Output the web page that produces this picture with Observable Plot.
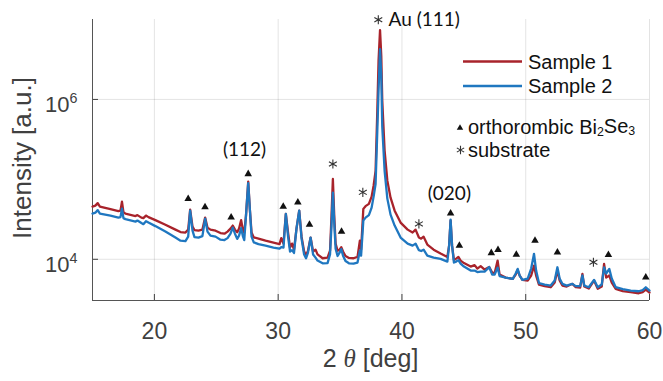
<!DOCTYPE html>
<html><head><meta charset="utf-8">
<script src="https://cdn.jsdelivr.net/npm/d3@7"></script>
<script src="https://cdn.jsdelivr.net/npm/@observablehq/plot@0.6"></script>
<style>
body{margin:0;background:#fff;}
#chart{width:663px;height:381px;}
</style></head><body><div id="chart"></div>
<script>
// 2θ positions (deg)
const twoTheta = [15.00,15.23,15.42,15.60,16.45,17.09,17.26,17.38,17.50,17.66,
18.47,18.63,18.95,19.11,19.32,19.52,20.08,20.89,21.70,22.11,
22.51,22.73,22.89,23.08,23.24,23.56,23.88,24.10,24.29,24.53,
24.94,25.34,25.66,25.91,26.15,26.33,26.51,26.69,26.84,27.01,
27.16,27.26,27.40,27.58,27.72,27.85,28.03,28.41,28.98,29.62,
30.11,30.25,30.43,30.62,30.80,30.96,31.12,31.28,31.48,31.70,
31.89,32.09,32.25,32.41,32.62,32.82,33.02,33.18,33.59,33.99,
34.19,34.31,34.42,34.53,34.64,34.80,34.96,35.10,35.24,35.44,
35.72,36.09,36.41,36.60,36.70,36.88,37.06,37.33,37.55,37.71,
37.87,38.01,38.11,38.23,38.33,38.41,38.60,38.82,39.08,39.41,
39.89,40.46,40.86,41.10,41.37,41.55,41.75,42.05,42.56,43.12,
43.67,43.81,43.93,44.05,44.20,44.38,44.56,44.74,45.01,45.55,
45.87,46.09,46.36,46.68,47.05,47.29,47.49,47.73,47.89,48.38,
48.95,49.19,49.35,49.51,49.73,50.16,50.44,50.67,50.84,51.07,
51.53,52.02,52.34,52.56,52.74,52.96,53.31,53.77,54.04,54.40,
54.58,54.73,55.09,55.52,55.82,56.14,56.33,56.50,56.75,56.95,
57.27,57.84,58.48,59.13,59.45,59.70,60.00];

// Sample 1 intensity (a.u.)
const sample1 = [45600,46900,50400,45600,42400,40000,40600,52600,38900,37200,
34700,35700,33200,32700,35200,33700,30900,27100,23500,21900,
21600,23500,41800,25600,23200,22800,23500,33200,24900,23500,
22800,21300,20900,22200,24200,26400,23500,21800,24200,30900,
22800,21600,35200,93500,40600,21600,18800,18100,17100,16200,
15500,18400,15700,36900,21600,14000,15700,13200,24200,40600,
19200,12700,11100,12800,18700,12500,13200,11500,10300,10500,
12800,35200,101000,35200,15700,12800,13200,14200,12500,11000,
10400,10300,10700,17100,13200,42700,46200,49300,60800,83400,
128000,723000,3050000,7370000,3520000,964000,229000,96400,59000,40600,
28800,23500,21600,23500,18700,18100,19200,15300,13200,11800,
10700,14800,30500,14800,9770,10200,10700,9630,8960,8110,
8460,7650,8220,7430,7990,6820,6720,9630,6440,5900,
5690,6440,7330,6260,5530,5420,6260,8340,6260,4830,
4620,4470,5110,7230,5420,4690,4560,4930,4490,4430,
6570,4560,4300,5420,4270,4560,8760,5900,6260,5110,
4270,4000,3870,3760,3890,4180,3840];

// Sample 2 intensity (a.u.)
const sample2 = [37200,38300,41200,37200,35200,33200,33700,43000,32700,31800,
29600,30500,28400,27500,30000,28800,26000,22200,18700,17100,
16900,19200,40600,22800,18900,18700,19500,32300,22200,19800,
19200,17600,17400,18400,20900,24900,20900,18000,19800,24500,
19200,17400,35200,89700,40600,19200,16300,15500,14800,14000,
13600,14200,14000,36900,19200,12500,13000,12000,24200,40600,
18100,11600,10300,12100,18700,11500,10500,9630,8910,8960,
11500,26400,68200,28800,13600,11000,12100,13400,11100,9500,
8910,8840,9100,12800,11100,30500,33200,35700,44300,60800,
87600,406000,1290000,4270000,1980000,456000,128000,57400,36200,26400,
18700,15700,14800,15700,13000,12700,13200,11100,10500,10100,
9360,14800,31400,14800,9100,9360,9770,8840,8110,7230,
7230,6920,7020,7020,7990,6440,6440,7870,6170,5900,
5690,6630,7590,6260,5530,5740,7650,11700,7230,5040,
4830,4690,5420,7940,5740,4930,4690,4930,4620,4620,
6260,4690,4470,5530,4470,4830,7940,6630,7590,5740,
4470,4240,4060,3980,4120,4470,4060];

// orthorhombic Bi2Se3 peak markers
const orthoX = [22.73,24.09,26.20,27.58,30.41,31.59,32.53,35.12,43.93,44.64,47.22,47.76,49.24,50.75,52.56,56.68,59.70];
const orthoY = [56900,44900,33500,116800,45600,51600,27100,22200,37600,14800,12000,13100,11450,17100,12240,11350,5960];

// substrate peak markers
const substrateX = [34.42,36.84,38.09,41.37,55.47];
const substrateY = [155800,68800,9910000,27700,9170];

// peak labels
const hklLabels = ["(112)","(020)"];
const hklX = [27.28,43.83];
const hklY = [235000,66200];
const auLabel = ["Au (111)"];
const auX = [38.92];
const auY = [9910000];

const xTicks = [20,30,40,50,60];
const yTicks = [1e4,1e6];
const xDomain = [15,60];
const yDomain = [3050,1e7];

const seriesNames = ["Sample 1","Sample 2"];
const seriesColors = ["#A8232B","#1F77C0"];

const s1 = twoTheta.map((t,i)=>({t, v: sample1[i]}));
const s2 = twoTheta.map((t,i)=>({t, v: sample2[i]}));
const ortho = orthoX.map((x,i)=>({x, y: orthoY[i]}));
const subs = substrateX.map((x,i)=>({x, y: substrateY[i]}));
const hkl = hklLabels.map((s,i)=>({s, x: hklX[i], y: hklY[i]}));
const au = auLabel.map((s,i)=>({s, x: auX[i], y: auY[i]}));

const FONT = "'Liberation Sans', Arial, Helvetica, sans-serif";
const AXC = "#404040";

const chart = Plot.plot({
  width: 663, height: 381,
  marginLeft: 92, marginRight: 14, marginTop: 19, marginBottom: 81,
  style: {fontFamily: FONT, background: "#fff", overflow: "visible"},
  x: {domain: xDomain, label: null},
  y: {type: "log", domain: yDomain, label: null},
  marks: [
    Plot.gridX({ticks: xTicks, stroke: "#000", strokeOpacity: 0.11}),
    Plot.gridY({ticks: yTicks, stroke: "#000", strokeOpacity: 0.11}),
    Plot.axisX({ticks: xTicks, tickSize: 6, dy: -6, tickFormat: () => "", color: AXC}),
    Plot.axisX({ticks: xTicks, tickSize: 0, tickPadding: 22, fontSize: 23, color: AXC, tickFormat: d => String(d)}),
    Plot.axisY({ticks: yTicks, tickSize: 6, dx: 6, tickFormat: () => "", color: AXC}),
    Plot.axisY({ticks: yTicks, tickSize: 0, tickPadding: 15, dy: 6, fontSize: 22, color: AXC,
      tickFormat: d => "10^" + Math.round(Math.log10(d))}),
    Plot.ruleX([xDomain[0]], {stroke: "#555", strokeWidth: 1}),
    Plot.ruleY([yDomain[0]], {stroke: "#555", strokeWidth: 1}),
    Plot.line(s1, {x: "t", y: "v", stroke: seriesColors[0], strokeWidth: 2.3}),
    Plot.line(s2, {x: "t", y: "v", stroke: seriesColors[1], strokeWidth: 2.3}),
    Plot.dot(ortho, {x: "x", y: "y", symbol: "triangle", fill: "#111", stroke: "none", r: 2.8}),
    Plot.dot(subs, {x: "x", y: "y", symbol: "asterisk", stroke: "#333", strokeWidth: 1.1, r: 4.3}),
    Plot.text(hkl, {x: "x", y: "y", text: "s", fontSize: 19, fill: "#111", fontFamily: "Lato, 'Liberation Sans', sans-serif"}),
    Plot.text(au, {x: "x", y: "y", text: "s", fontSize: 19, fill: "#111", textAnchor: "start", fontFamily: "Lato, 'Liberation Sans', sans-serif"})
  ]
});
document.getElementById("chart").appendChild(chart);

const svg = d3.select(chart);
// superscript exponents on y tick labels
svg.selectAll('g[aria-label="y-axis tick label"] text').each(function(){
  const t = this.textContent;
  if (!t.includes("^")) return;
  const [b, e] = t.split("^");
  const sel = d3.select(this);
  sel.text(null);
  sel.append("tspan").text(b);
  sel.append("tspan").attr("font-size", "0.65em").attr("dy", "-0.65em").text(e);
});

// axis titles
const xl = svg.append("text").attr("x", 370.5).attr("y", 367).attr("text-anchor", "middle")
  .attr("font-size", 25).attr("fill", AXC).attr("font-family", FONT);
xl.append("tspan").text("2 ");
xl.append("tspan").attr("font-style", "italic").attr("font-family", "'Liberation Serif', 'DejaVu Serif', serif").text("θ");
xl.append("tspan").text(" [deg]");

svg.append("text").attr("transform", "translate(31,158) rotate(-90)").attr("text-anchor", "middle")
  .attr("font-size", 26).attr("fill", AXC).attr("font-family", FONT).text("Intensity [a.u.]");

// legend
const lg = svg.append("g").attr("font-family", FONT).attr("font-size", 20).attr("fill", "#111")
  .attr("text-anchor", "start");
[[61.5, 68.5],[86, 93]].forEach(([ly, by], i) => {
  lg.append("line").attr("x1", 463).attr("x2", 522).attr("y1", ly).attr("y2", ly)
    .attr("stroke", seriesColors[i]).attr("stroke-width", 2.3);
  lg.append("text").attr("x", 528).attr("y", by).attr("text-anchor", "start").text(seriesNames[i]);
});
lg.append("path").attr("d", d3.symbol(d3.symbolTriangle, 18)()).attr("transform", "translate(460,128)").attr("fill", "#111");
const ot = lg.append("text").attr("x", 468).attr("y", 134).attr("text-anchor", "start");
ot.append("tspan").text("orthorombic Bi");
ot.append("tspan").attr("font-size", "0.62em").attr("dy", "0.15em").text("2");
ot.append("tspan").attr("dy", "-0.15em").text("Se");
ot.append("tspan").attr("font-size", "0.62em").attr("dy", "0.15em").text("3");
lg.append("path").attr("d", d3.symbol(d3.symbolAsterisk, 50)()).attr("transform", "translate(460.5,150)")
  .attr("stroke", "#333").attr("stroke-width", 1.1).attr("fill", "none");
lg.append("text").attr("x", 468).attr("y", 157).attr("text-anchor", "start").text("substrate");
</script>
</body></html>
